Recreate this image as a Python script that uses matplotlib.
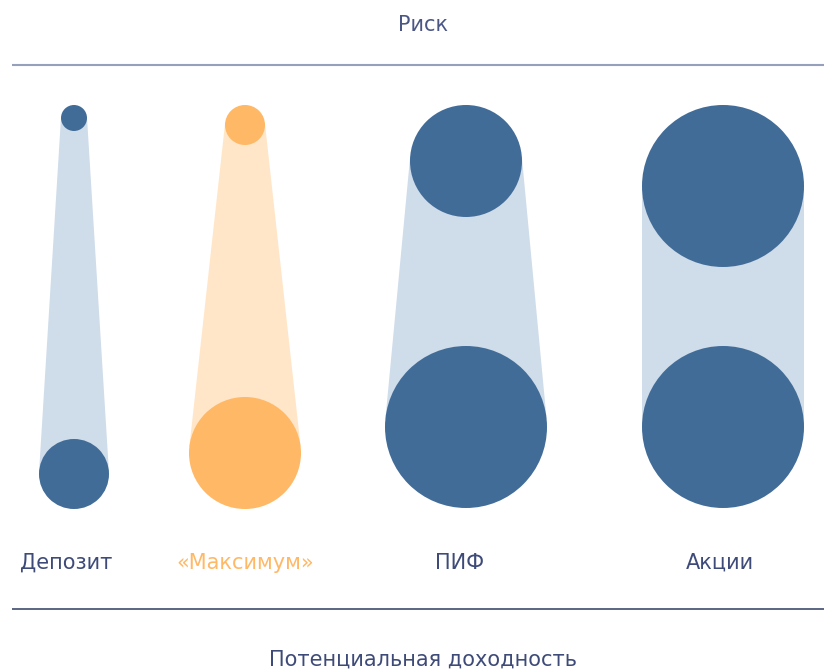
import numpy as np
import matplotlib
matplotlib.use("Agg")
import matplotlib.pyplot as plt
from matplotlib.patches import Circle, Polygon

plt.rcParams['font.family'] = ['Liberation Sans Narrow', 'DejaVu Sans']

categories = ["Депозит", "«Максимум»", "ПИФ", "Акции"]
x_centers = [74, 245, 466, 723]
risk_radius = [13, 20, 56, 81]       # top circle
risk_y = [118, 125, 161, 186]
return_radius = [35, 56, 81, 81]     # bottom circle
return_y = [474, 453, 427, 427]
label_x = [66, 245, 460, 720]
highlight = [False, True, False, False]

DARK = "#426c98"
LIGHT = "#cfdcea"
ORANGE = "#ffb865"
LIGHT_OR = "#ffe6c8"
TEXT = "#3e4b78"

fig = plt.figure(figsize=(8.24, 6.72), dpi=100)
ax = fig.add_axes([0, 0, 1, 1])
ax.set_xlim(0, 824)
ax.set_ylim(672, 0)
ax.set_aspect('equal')
ax.axis('off')

for cx, r1, y1, r2, y2, hl in zip(x_centers, risk_radius, risk_y, return_radius, return_y, highlight):
    dark = ORANGE if hl else DARK
    light = LIGHT_OR if hl else LIGHT
    d = y2 - y1
    a = np.arcsin((r2 - r1) / d)
    nr = np.array([np.cos(a), -np.sin(a)])
    nl = np.array([-np.cos(a), -np.sin(a)])
    c1 = np.array([cx, y1]); c2 = np.array([cx, y2])
    poly = [c1 + r1 * nl, c1 + r1 * nr, c2 + r2 * nr, c2 + r2 * nl]
    ax.add_patch(Polygon(poly, closed=True, facecolor=light, edgecolor='none', zorder=1))
    ax.add_patch(Circle((cx, y1), r1, facecolor=dark, edgecolor='none', zorder=2))
    ax.add_patch(Circle((cx, y2), r2, facecolor=dark, edgecolor='none', zorder=2))

for lx, lab, hl in zip(label_x, categories, highlight):
    ax.text(lx, 563, lab, ha='center', va='center', fontsize=15,
            color=ORANGE if hl else TEXT)

ax.text(423, 25, "Риск", ha='center', va='center', fontsize=15, color="#4a5785")
ax.plot([12, 824], [65, 65], color="#95a0bd", lw=1.5, solid_capstyle='butt')
ax.plot([12, 824], [609, 609], color="#3e4b6e", lw=1.2, solid_capstyle='butt')
ax.text(423, 660, "Потенциальная доходность", ha='center', va='center', fontsize=15, color=TEXT)

fig.savefig("out.png", dpi=100)
